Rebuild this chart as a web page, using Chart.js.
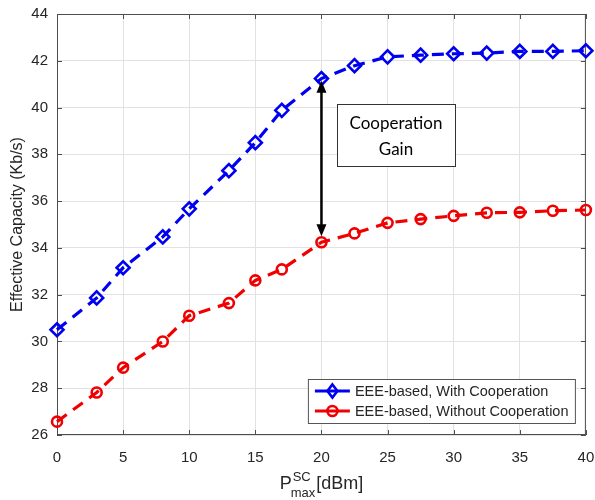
<!DOCTYPE html>
<html>
<head>
<meta charset="utf-8">
<script src="https://cdn.jsdelivr.net/npm/chart.js@4.4.0/dist/chart.umd.min.js"></script>
<style>
  html, body { margin: 0; padding: 0; background: #fff; }
  #wrap { width: 595px; height: 500px; }
</style>
</head>
<body>
<div id="wrap"><canvas id="c" width="595" height="500"></canvas></div>
<script>
// Maximum small-cell transmit power (dBm)
const powerDbm = [0, 3, 5, 8, 10, 13, 15, 17, 20, 22.5, 25, 27.5, 30, 32.5, 35, 37.5, 40];
// Effective capacity (Kb/s)
const capacityWithCoop = [30.5, 31.86, 33.15, 34.47, 35.67, 37.3, 38.5, 39.88, 41.24, 41.79, 42.17, 42.24, 42.3, 42.33, 42.4, 42.4, 42.43];
const capacityWithoutCoop = [26.57, 27.82, 28.88, 30.0, 31.1, 31.64, 32.61, 33.08, 34.24, 34.62, 35.07, 35.23, 35.37, 35.5, 35.52, 35.59, 35.62];

const seriesNames = ['EEE-based, With Cooperation', 'EEE-based, Without Cooperation'];
const xTickValues = [0, 5, 10, 15, 20, 25, 30, 35, 40];
const yTickValues = [26, 28, 30, 32, 34, 36, 38, 40, 42, 44];
const yTitle = 'Effective Capacity (Kb/s)';
const gainText = ['Cooperation', 'Gain'];
const gainPower = 20;

const BLUE = '#0000f0';
const RED = '#f00000';
const AXIS = '#4d4d4d';
const TEXT = '#262626';
const SANS = '"Liberation Sans", Arial, sans-serif';

function points(ys) {
  return powerDbm.map((x, i) => ({ x: x, y: ys[i] }));
}

function drawMarker(ctx, style, x, y, color) {
  ctx.save();
  ctx.strokeStyle = color;
  ctx.setLineDash([]);
  ctx.lineWidth = 2.6;
  ctx.beginPath();
  if (style === 'diamond') {
    ctx.moveTo(x, y - 6.5);
    ctx.lineTo(x + 5, y);
    ctx.lineTo(x, y + 6.5);
    ctx.lineTo(x - 5, y);
    ctx.closePath();
  } else {
    ctx.arc(x, y, 5, 0, Math.PI * 2);
  }
  ctx.stroke();
  ctx.restore();
}

const decorations = {
  id: 'decorations',
  beforeDatasetsDraw(chart) {
    const { ctx, chartArea: a, scales } = chart;
    ctx.save();
    // axes box
    ctx.strokeStyle = AXIS;
    ctx.lineWidth = 1;
    ctx.strokeRect(a.left + 0.5, a.top + 0.5, a.right - a.left - 1, a.bottom - a.top - 1);
    // inward tick marks on all four sides
    ctx.beginPath();
    xTickValues.forEach(v => {
      const px = Math.round(scales.x.getPixelForValue(v)) + 0.5;
      ctx.moveTo(px, a.bottom); ctx.lineTo(px, a.bottom - 5);
      ctx.moveTo(px, a.top); ctx.lineTo(px, a.top + 5);
    });
    yTickValues.forEach(v => {
      const py = Math.round(scales.y.getPixelForValue(v)) + 0.5;
      ctx.moveTo(a.left, py); ctx.lineTo(a.left + 5, py);
      ctx.moveTo(a.right, py); ctx.lineTo(a.right - 5, py);
    });
    ctx.stroke();
    ctx.restore();
  },
  afterDraw(chart) {
    const { ctx, chartArea: a, scales } = chart;
    const sx = scales.x, sy = scales.y;
    ctx.save();

    // y-axis title
    ctx.fillStyle = TEXT;
    ctx.font = '16px ' + SANS;
    ctx.textAlign = 'center';
    ctx.textBaseline = 'middle';
    ctx.translate(18, (a.top + a.bottom) / 2);
    ctx.rotate(-Math.PI / 2);
    ctx.fillText(yTitle, 0, 0);
    ctx.setTransform(1, 0, 0, 1, 0, 0);

    // x-axis title: P^SC_max[dBm]
    const big = '18px ' + SANS, small = '13px ' + SANS;
    ctx.textAlign = 'left';
    ctx.textBaseline = 'alphabetic';
    ctx.font = big;
    const wP = ctx.measureText('P').width;
    const wUnit = ctx.measureText('[dBm]').width;
    ctx.font = small;
    const wSup = ctx.measureText('SC').width;
    const wSub = ctx.measureText('max').width;
    const wScript = Math.max(wSup, wSub);
    const total = wP + wScript + wUnit;
    const tx = (a.left + a.right) / 2 - total / 2;
    const base = 489;
    ctx.font = big;
    ctx.fillText('P', tx, base);
    ctx.font = small;
    ctx.fillText('SC', tx + wP + 1, base - 8);
    ctx.fillText('max', tx + wP - 1, base + 8);
    ctx.font = big;
    ctx.fillText('[dBm]', tx + wP + wScript, base);

    // cooperation-gain arrow between the two curves
    const ax = sx.getPixelForValue(gainPower);
    const yTop = sy.getPixelForValue(41.15);
    const yBot = sy.getPixelForValue(34.5);
    ctx.strokeStyle = '#000';
    ctx.fillStyle = '#000';
    ctx.lineWidth = 2.5;
    ctx.beginPath();
    ctx.moveTo(ax, yTop + 10);
    ctx.lineTo(ax, yBot - 10);
    ctx.stroke();
    ctx.beginPath();
    ctx.moveTo(ax, yTop); ctx.lineTo(ax - 5, yTop + 12); ctx.lineTo(ax + 5, yTop + 12); ctx.closePath();
    ctx.fill();
    ctx.beginPath();
    ctx.moveTo(ax, yBot); ctx.lineTo(ax - 5, yBot - 12); ctx.lineTo(ax + 5, yBot - 12); ctx.closePath();
    ctx.fill();

    // gain label box
    const bx0 = sx.getPixelForValue(21.17), bx1 = sx.getPixelForValue(30.1);
    const by0 = sy.getPixelForValue(40.15), by1 = sy.getPixelForValue(37.5);
    ctx.fillStyle = '#fff';
    ctx.fillRect(bx0, by0, bx1 - bx0, by1 - by0);
    ctx.strokeStyle = '#333';
    ctx.lineWidth = 1;
    ctx.strokeRect(Math.round(bx0) + 0.5, Math.round(by0) + 0.5, Math.round(bx1 - bx0), Math.round(by1 - by0));
    ctx.fillStyle = '#000';
    ctx.font = '17px Lato, "Open Sans", sans-serif';
    ctx.textAlign = 'center';
    ctx.textBaseline = 'middle';
    const cx = (bx0 + bx1) / 2;
    ctx.fillText(gainText[0], cx, by0 + 19);
    ctx.fillText(gainText[1], cx, by0 + 45);

    // legend, lower right inside the axes
    const lx1 = a.right - 11, ly1 = a.bottom - 12;
    const lx0 = lx1 - 267, ly0 = ly1 - 44;
    ctx.fillStyle = '#fff';
    ctx.fillRect(lx0, ly0, lx1 - lx0, ly1 - ly0);
    ctx.strokeStyle = '#555';
    ctx.lineWidth = 1;
    ctx.strokeRect(lx0 + 0.5, ly0 + 0.5, lx1 - lx0, ly1 - ly0);
    const entries = [
      { name: seriesNames[0], color: BLUE, marker: 'diamond', y: ly0 + 12 },
      { name: seriesNames[1], color: RED, marker: 'circle', y: ly0 + 32 }
    ];
    ctx.font = '14.5px ' + SANS;
    ctx.textAlign = 'left';
    ctx.textBaseline = 'middle';
    entries.forEach(e => {
      ctx.strokeStyle = e.color;
      ctx.lineWidth = 3;
      ctx.beginPath();
      ctx.moveTo(lx0 + 7, e.y); ctx.lineTo(lx0 + 42, e.y);
      ctx.stroke();
      drawMarker(ctx, e.marker, lx0 + 24.5, e.y, e.color);
      ctx.fillStyle = TEXT;
      ctx.fillText(e.name, lx0 + 47, e.y + 1);
    });

    ctx.restore();
  }
};

function noEdgePadding(s) {
  s.paddingLeft = 0; s.paddingRight = 0; s.paddingTop = 0; s.paddingBottom = 0;
}

new Chart(document.getElementById('c'), {
  type: 'line',
  data: {
    datasets: [
      {
        label: seriesNames[0],
        data: points(capacityWithCoop),
        borderColor: BLUE,
        borderWidth: 3.2,
        borderDash: [12, 8],
        pointStyle: 'rectRot',
        pointRadius: 6.5,
        pointBorderWidth: 2.6,
        pointBorderColor: BLUE,
        pointBackgroundColor: 'rgba(0,0,0,0)',
        tension: 0,
        clip: false
      },
      {
        label: seriesNames[1],
        data: points(capacityWithoutCoop),
        borderColor: RED,
        borderWidth: 3.2,
        borderDash: [12, 8],
        pointStyle: 'circle',
        pointRadius: 5,
        pointBorderWidth: 2.6,
        pointBorderColor: RED,
        pointBackgroundColor: 'rgba(0,0,0,0)',
        tension: 0,
        clip: false
      }
    ]
  },
  options: {
    responsive: false,
    animation: false,
    devicePixelRatio: 1,
    layout: { padding: { top: 14, right: 9, left: 0, bottom: 0 } },
    plugins: { legend: { display: false }, tooltip: { enabled: false } },
    scales: {
      x: {
        type: 'linear',
        min: 0,
        max: 40,
        afterBuildTicks: s => { s.ticks = xTickValues.map(v => ({ value: v })); },
        afterFit: s => { s.height = 65; noEdgePadding(s); },
        grid: { color: '#e2e2e2', lineWidth: 1, drawTicks: false },
        border: { display: false },
        ticks: { color: TEXT, font: { family: SANS, size: 15 }, padding: 14, maxRotation: 0 }
      },
      y: {
        type: 'linear',
        min: 26,
        max: 44,
        afterBuildTicks: s => { s.ticks = yTickValues.map(v => ({ value: v })); },
        afterFit: s => { s.width = 57; noEdgePadding(s); },
        grid: { color: '#e2e2e2', lineWidth: 1, drawTicks: false },
        border: { display: false },
        ticks: { color: TEXT, font: { family: SANS, size: 15 }, padding: 9 }
      }
    }
  },
  plugins: [decorations]
});
</script>
</body>
</html>
